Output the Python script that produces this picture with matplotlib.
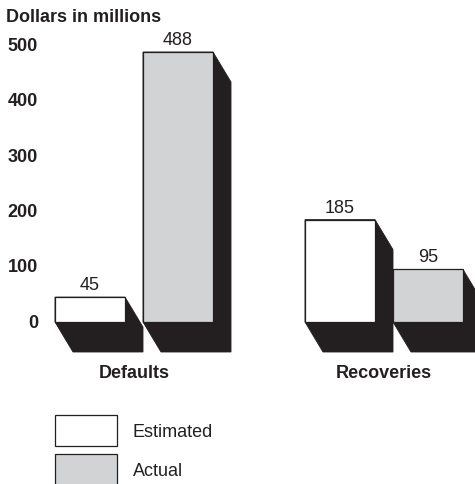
"""3D-style bar chart: estimated vs actual defaults and recoveries."""
import matplotlib
matplotlib.use("Agg")
import matplotlib.pyplot as plt
from matplotlib.patches import Polygon, Rectangle

categories = ["Defaults", "Recoveries"]
series = ["Estimated", "Actual"]
estimated = [45, 185]
actual = [488, 95]
yticks = [0, 100, 200, 300, 400, 500]

INK = "#231f20"
GREY = "#d1d3d4"
FILLS = ["white", GREY]
FS = 13

plt.rcParams["font.family"] = ["Liberation Sans", "DejaVu Sans"]

W, H = 475, 485
k = 270 / 488          # pixels per million
base = 323             # pixel row of zero
fig = plt.figure(figsize=(W / 100, H / 100), dpi=100)
ax = fig.add_axes([0, 0, 1, 1])
ax.set_xlim(0, W)
ax.set_ylim(-(H - base) / k, base / k)
ax.axis("off")


def row(p):
    # pixel row (from top) -> data value
    return (base - p) / k


bar_w, dx, dy = 70, 18, 30 / k
group_left = [55, 305]

for gi, cat in enumerate(categories):
    vals = [estimated[gi], actual[gi]]
    for si, v in enumerate(vals):
        x0 = group_left[gi] + si * (bar_w + dx)
        x1 = x0 + bar_w
        hull = [(x0, v), (x1, v), (x1 + dx, v - dy), (x1 + dx, -dy),
                (x0 + dx, -dy), (x0, 0)]
        ax.add_patch(Polygon(hull, closed=True, fc=INK, ec=INK, lw=0.6, zorder=2 + si * 2))
        ax.add_patch(Rectangle((x0, 0), bar_w, v, fc=FILLS[si], ec=INK, lw=0.9, zorder=3 + si * 2))
        ax.text((x0 + x1) / 2, v + 4 / k, str(v), ha="center", va="bottom",
                fontsize=FS, color=INK)
    center = group_left[gi] + (2 * bar_w + dx) / 2
    ax.text(center, row(374), cat, ha="center", va="center",
            fontsize=FS, fontweight="bold", color=INK)

for t in yticks:
    ax.text(38, t, str(t), ha="right", va="center", fontsize=FS,
            fontweight="bold", color=INK)
ax.text(6, row(17), "Dollars in millions", ha="left", va="center",
        fontsize=FS, fontweight="bold", color=INK)

# legend
for si, name in enumerate(series):
    top = 416 + si * 39
    ax.add_patch(Rectangle((55, row(top + 31)), 62, 31 / k, fc=FILLS[si], ec=INK, lw=0.9))
    ax.text(133, row(top + 17), name, ha="left", va="center", fontsize=FS, color=INK)

fig.savefig("out.png", dpi=100)
